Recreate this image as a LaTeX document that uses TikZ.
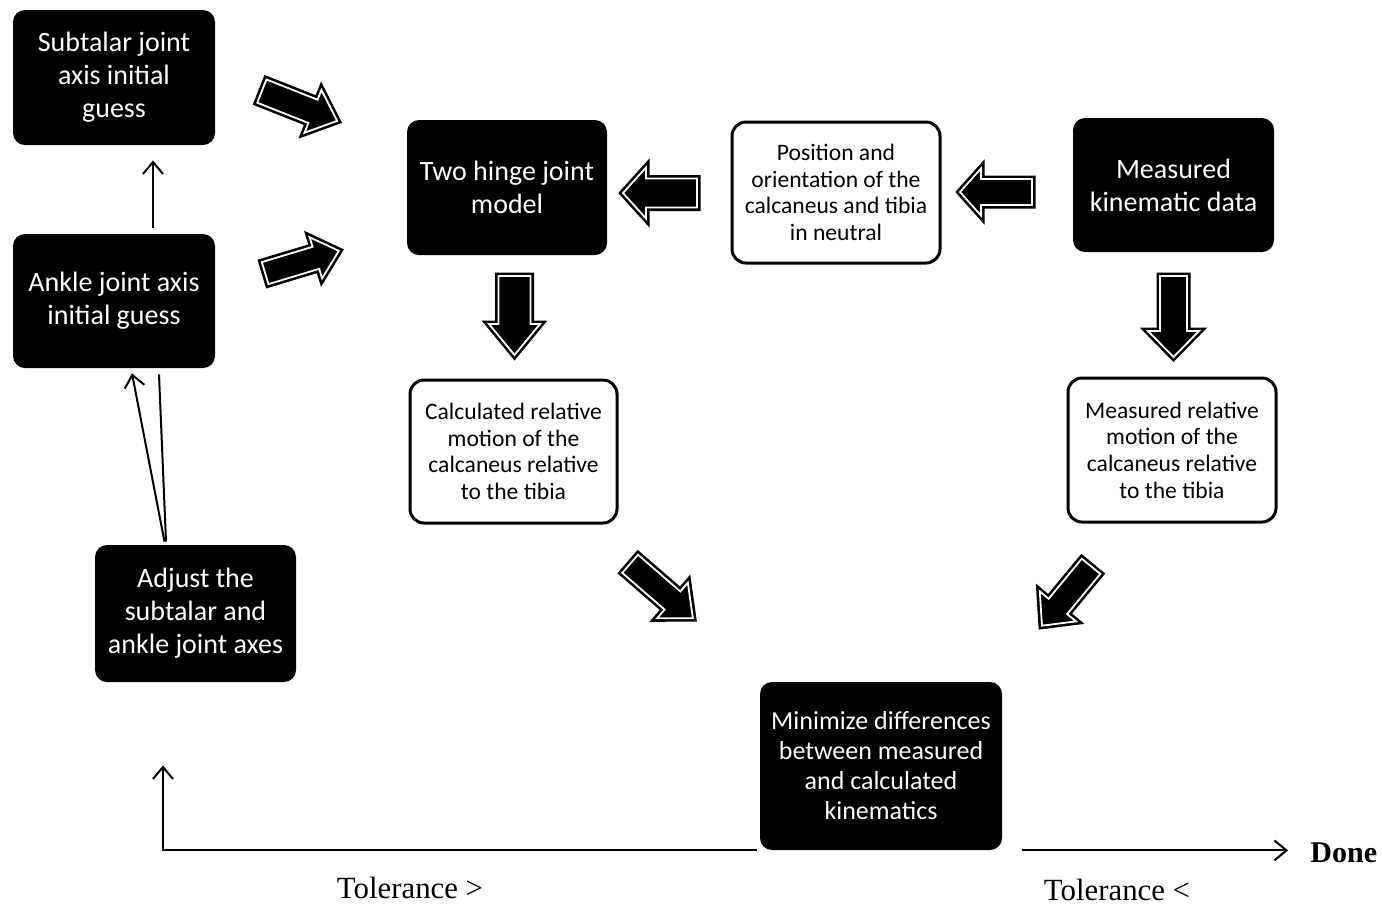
\documentclass[tikz,border=0pt]{standalone}
\usepackage{fontspec}
\setmainfont{Carlito}
\newfontfamily\tnr{Liberation Serif}
\usetikzlibrary{arrows.meta,calc}
\tikzset{
  barrow/.style={preaction={draw=black,line width=3.5pt},fill=black,draw=white,line width=0.9pt},
  blackbox/.style={fill=black,text=white,rounded corners=6pt,align=center,inner sep=0pt,font=\fontsize{14}{16.5}\selectfont},
  whitebox/.style={draw=black,line width=1.5pt,fill=white,rounded corners=7pt,align=center,inner sep=0pt,font=\fontsize{11.8}{13.3}\selectfont},
  thinarrow/.style={line width=1pt,-{Straight Barb[length=6pt,width=10pt]}},
  plainline/.style={line width=1pt},
  tol/.style={font=\tnr\fontsize{15.4}{18}\selectfont,inner sep=0pt}
}
\newcommand\blockarrow[7]{%
  \begin{scope}[shift={(#1,#2)},rotate=#3]
    \draw[barrow] (-#4/2,-#5/2) -- (#4/2-#7,-#5/2) -- (#4/2-#7,-#6/2) -- (#4/2,0)
      -- (#4/2-#7,#6/2) -- (#4/2-#7,#5/2) -- (-#4/2,#5/2) -- cycle;
  \end{scope}}
\begin{document}
\begin{tikzpicture}[x=0.5pt,y=-0.5pt]
\useasboundingbox (0,0) rectangle (1382,907);
\fill[white] (0,0) rectangle (1382,907);

% boxes
\node[blackbox,minimum width=101pt,minimum height=67.5pt] (sub) at (114,77.5) {Subtalar joint\\axis initial\\guess};
\node[blackbox,minimum width=101pt,minimum height=67pt] (ank) at (114,301) {Ankle joint axis\\initial guess};
\node[blackbox,minimum width=100.5pt,minimum height=68.5pt] (adj) at (195.5,613.5) {Adjust the\\subtalar and\\ankle joint axes};
\node[blackbox,minimum width=100pt,minimum height=67.5pt] (two) at (507,187.5) {Two hinge joint\\model};
\node[whitebox,minimum width=104pt,minimum height=70.5pt] (pos) at (836,192.5) {Position and\\orientation of the\\calcaneus and tibia\\in neutral};
\node[blackbox,minimum width=100.5pt,minimum height=67pt] (mkd) at (1173.5,185) {Measured\\kinematic data};
\node[whitebox,minimum width=103.5pt,minimum height=71.5pt] (cal) at (513.5,451.5) {Calculated relative\\motion of the\\calcaneus relative\\to the tibia};
\node[whitebox,minimum width=104pt,minimum height=72pt] (mrel) at (1172,450) {Measured relative\\motion of the\\calcaneus relative\\to the tibia};
\node[blackbox,minimum width=121pt,minimum height=84pt,font=\fontsize{13}{15}\selectfont] (min) at (881,766) {Minimize differences\\between measured\\and calculated\\kinematics};

% labels
\node[tol] (tolg) at (410,888) {Tolerance >};
\node[tol] (toll) at (1117,890) {Tolerance <};
\node[font=\tnr\bfseries\fontsize{15}{18}\selectfont,anchor=west,inner sep=0pt] (done) at (1310,853) {Done};

% block arrows
\blockarrow{299.5}{106}{-21.6}{81}{25}{46}{26}
\blockarrow{302}{262}{16.8}{77}{23}{43}{24}
\blockarrow{660}{193}{180}{74}{29}{51}{23}
\blockarrow{996}{192}{180}{72}{26}{47}{21}
\blockarrow{514.5}{315.5}{-90}{79}{32}{51}{31}
\blockarrow{1173.5}{316.5}{-90}{81}{27}{51}{26}
\blockarrow{661.5}{591}{-40.9}{83}{24}{47}{27}
\blockarrow{1066.5}{596}{230.4}{77}{24}{47}{25}

% thin connectors
\draw[thinarrow] ($(ank.north)+(39,-6)$) -- ($(sub.south)+(39,15)$);
\draw[thinarrow] ($(adj.north)+(-31,-3)$) -- ($(ank.south)+(18,5)$);
\draw[plainline] ($(adj.north)+(-29.5,-3)$) -- ($(ank.south)+(45,6)$);
\coordinate (ret) at ($(adj.south)+(-32.5,83)$);
\draw[thinarrow] ($(min.south west)+(-3,0)$) -| (ret);
\coordinate (dn) at ($(done.west)+(-22,0)$);
\coordinate (rs) at ($(min.south east)+(20,0)$);
\draw[thinarrow] (rs) -- (rs -| dn);
\end{tikzpicture}
\end{document}
